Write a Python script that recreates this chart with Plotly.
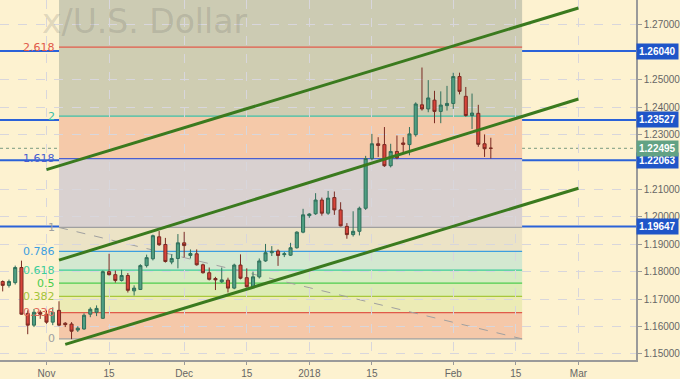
import plotly.graph_objects as go

dates = ["2017-10-23","2017-10-24","2017-10-25","2017-10-26","2017-10-27","2017-10-30","2017-10-31",
"2017-11-01","2017-11-02","2017-11-03","2017-11-06","2017-11-07","2017-11-08","2017-11-09","2017-11-10",
"2017-11-13","2017-11-14","2017-11-15","2017-11-16","2017-11-17","2017-11-20","2017-11-21","2017-11-22","2017-11-23","2017-11-24",
"2017-11-27","2017-11-28","2017-11-29","2017-11-30","2017-12-01","2017-12-04","2017-12-05","2017-12-06","2017-12-07","2017-12-08",
"2017-12-11","2017-12-12","2017-12-13","2017-12-14","2017-12-15","2017-12-18","2017-12-19","2017-12-20","2017-12-21","2017-12-22",
"2017-12-26","2017-12-27","2017-12-28","2017-12-29","2018-01-01","2018-01-02","2018-01-03","2018-01-04","2018-01-05",
"2018-01-08","2018-01-09","2018-01-10","2018-01-11","2018-01-12","2018-01-15","2018-01-16","2018-01-17","2018-01-18","2018-01-19",
"2018-01-22","2018-01-23","2018-01-24","2018-01-25","2018-01-26","2018-01-29","2018-01-30","2018-01-31","2018-02-01","2018-02-02",
"2018-02-05","2018-02-06","2018-02-07","2018-02-08","2018-02-09"]

opens = [1.1764,1.1750,1.1760,1.1815,1.1648,1.1605,1.1652,
1.1645,1.1616,1.1659,1.1612,1.1609,1.1587,1.1591,1.1645,
1.1652,1.1630,1.1800,1.1789,1.1768,1.1786,1.1730,1.1735,1.1822,1.1847,
1.1927,1.1899,1.1835,1.1848,1.1905,1.1859,1.1865,1.1825,1.1796,1.1775,
1.1763,1.1769,1.1740,1.1824,1.1778,1.1745,1.1781,1.1839,1.1869,1.1875,
1.1862,1.1860,1.1887,1.1944,1.2004,1.2011,1.2061,1.2013,1.2070,
1.2025,1.1965,1.1935,1.1947,1.2031,1.2212,1.2266,1.2263,1.2186,1.2238,
1.2269,1.2263,1.2299,1.2408,1.2393,1.2425,1.2384,1.2405,1.2413,1.2511,
1.2439,1.2369,1.2377,1.2266,1.2250]
highs = [1.1768,1.1771,1.1822,1.1840,1.1659,1.1664,1.1659,
1.1659,1.1670,1.1692,1.1616,1.1616,1.1601,1.1648,1.1670,
1.1677,1.1804,1.1865,1.1804,1.1807,1.1795,1.1750,1.1827,1.1862,1.1935,
1.1948,1.1923,1.1863,1.1937,1.1945,1.1881,1.1881,1.1829,1.1815,1.1781,
1.1815,1.1778,1.1829,1.1863,1.1812,1.1800,1.1848,1.1901,1.1893,1.1881,
1.1872,1.1905,1.1947,1.2029,1.2013,1.2086,1.2070,1.2094,1.2092,
1.2053,1.1977,1.2020,1.2037,1.2222,1.2302,1.2290,1.2327,1.2266,1.2296,
1.2290,1.2327,1.2417,1.2544,1.2498,1.2459,1.2457,1.2477,1.2525,1.2525,
1.2473,1.2449,1.2408,1.2300,1.2288]
lows = [1.1728,1.1742,1.1753,1.1643,1.1572,1.1598,1.1628,
1.1610,1.1605,1.1601,1.1598,1.1554,1.1580,1.1588,1.1634,
1.1638,1.1628,1.1786,1.1760,1.1764,1.1724,1.1713,1.1733,1.1815,1.1841,
1.1894,1.1833,1.1827,1.1812,1.1851,1.1848,1.1822,1.1793,1.1768,1.1733,
1.1759,1.1724,1.1736,1.1772,1.1742,1.1740,1.1775,1.1836,1.1857,1.1821,
1.1853,1.1857,1.1884,1.1940,1.1996,1.2007,1.2004,1.2007,1.2007,
1.1965,1.1920,1.1928,1.1932,1.2025,1.2206,1.2218,1.2182,1.2180,1.2210,
1.2230,1.2224,1.2292,1.2387,1.2381,1.2341,1.2341,1.2387,1.2393,1.2446,
1.2365,1.2320,1.2255,1.2218,1.2212]
closes = [1.1750,1.1764,1.1815,1.1645,1.1605,1.1652,1.1645,
1.1616,1.1652,1.1605,1.1607,1.1583,1.1594,1.1641,1.1663,
1.1666,1.1800,1.1789,1.1768,1.1786,1.1732,1.1740,1.1822,1.1851,1.1931,
1.1898,1.1837,1.1848,1.1905,1.1895,1.1866,1.1825,1.1796,1.1772,1.1770,
1.1770,1.1740,1.1824,1.1776,1.1745,1.1781,1.1839,1.1869,1.1874,1.1859,
1.1865,1.1887,1.1944,1.2007,1.2010,1.2061,1.2013,1.2068,1.2025,
1.1967,1.1935,1.1947,1.2031,1.2212,1.2266,1.2260,1.2186,1.2238,1.2215,
1.2264,1.2302,1.2411,1.2393,1.2433,1.2384,1.2407,1.2413,1.2511,1.2457,
1.2369,1.2378,1.2264,1.2248,1.22495]

# Fibonacci extension anchors
fib_dates = ["2017-11-03", "2018-02-16"]
fib_one = 1.1961
fib_zero = 1.1555
fib_ratios = [0, 0.236, 0.382, 0.5, 0.618, 0.786, 1, 1.618, 2, 2.618]
fib_labels = ["0", "0.236", "0.382", "0.5", "0.618", "0.786", "1", "1.618", "2", "2.618"]
fib_line_colors = ["#a0a0a0", "#e05a4a", "#a8c83c", "#4ccc4c", "#3ccc9a", "#3c9ee0", "#a0a0a0", "#4a5fd0", "#3cc0a8", "#e05a4a"]
fib_label_colors = ["#a0a0a0", "#e26a5a", "#a4c43a", "#4ccc4c", "#3ccc9a", "#3c9ee0", "#a0a0a0", "#4a5fd0", "#3cc0a8", "#e05a4a"]
fib_zone_colors = ["#f5c8a9", "#ecebb5", "#ddecb5", "#d7ecc2", "#d3e8d0", "#ece3c6", "#d9d1d0", "#f5c9a9", "#cfcdb2"]
fib_top_zone_color = "#cccbb3"

# Channel lines (start date, start price, end date, end price)
channel_x = [["2017-11-01", "2018-03-01"], ["2017-11-03", "2018-03-01"], ["2017-11-06", "2018-03-01"]]
channel_y = [[1.2172, 1.2761], [1.1842, 1.2429], [1.1535, 1.2104]]

# Horizontal levels
h_levels = [1.26040, 1.23527, 1.22063, 1.19647]
last_price = 1.22495

tick_dates = ["2017-11-01", "2017-11-15", "2017-12-01", "2017-12-15", "2018-01-01",
              "2018-01-15", "2018-02-01", "2018-02-15", "2018-03-01"]
tick_text = ["Nov", "15", "Dec", "15", "2018", "15", "Feb", "15", "Mar"]
price_ticks = [1.15, 1.16, 1.17, 1.18, 1.19, 1.20, 1.21, 1.23, 1.24, 1.25, 1.27]

y_range = [1.1478, 1.2790]
x_range = ["2017-10-20 13:40", "2018-03-14 04:48"]

fig = go.Figure()
shapes = []
annotations = []

fib_prices = [fib_zero + r * (fib_one - fib_zero) for r in fib_ratios]

# zones
for i in range(len(fib_prices) - 1):
    shapes.append(dict(type="rect", xref="x", yref="y", x0=fib_dates[0], x1=fib_dates[1],
                       y0=fib_prices[i], y1=fib_prices[i + 1], fillcolor=fib_zone_colors[i],
                       line=dict(width=0), layer="below"))
shapes.append(dict(type="rect", xref="x", yref="y", x0=fib_dates[0], x1=fib_dates[1],
                   y0=fib_prices[-1], y1=y_range[1], fillcolor=fib_top_zone_color,
                   line=dict(width=0), layer="below"))
# fib lines
for p, c in zip(fib_prices, fib_line_colors):
    shapes.append(dict(type="line", xref="x", yref="y", x0=fib_dates[0], x1=fib_dates[1],
                       y0=p, y1=p, line=dict(color=c, width=1.2), layer="below"))
# diagonal trend line of fib tool
shapes.append(dict(type="line", xref="x", yref="y", x0=fib_dates[0], x1=fib_dates[1],
                   y0=fib_one, y1=fib_zero, line=dict(color="#a0a0a0", width=1, dash="dash"), layer="below"))
# last price dotted line
shapes.append(dict(type="line", xref="paper", yref="y", x0=0, x1=1, y0=last_price, y1=last_price,
                   line=dict(color="#7a9a80", width=1, dash="dot"), layer="below"))
# blue horizontal levels
for h in h_levels:
    shapes.append(dict(type="line", xref="paper", yref="y", x0=0, x1=1, y0=h, y1=h,
                       line=dict(color="#2a62d8", width=2), layer="below"))

for lbl, p, c in zip(fib_labels, fib_prices, fib_label_colors):
    annotations.append(dict(x=fib_dates[0], y=p, xref="x", yref="y", text=lbl, showarrow=False,
                            xanchor="right", yanchor="middle", xshift=-2,
                            font=dict(size=11, color=c, family="DejaVu Sans")))

fig.add_trace(go.Candlestick(
    x=dates, open=opens, high=highs, low=lows, close=closes,
    increasing=dict(line=dict(color="#2f6f5a", width=1), fillcolor="#4f9f82"),
    decreasing=dict(line=dict(color="#7a2a22", width=1), fillcolor="#d8443a"),
    whiskerwidth=0, showlegend=False, hoverinfo="skip"))

for cx, cy in zip(channel_x, channel_y):
    fig.add_trace(go.Scatter(x=cx, y=cy, mode="lines", line=dict(color="#3a7a1e", width=3),
                             showlegend=False, hoverinfo="skip"))

for h in h_levels:
    annotations.append(dict(x=1, y=h, xref="paper", yref="y", text="<b>%.5f</b>" % h, showarrow=False,
                            xanchor="left", yanchor="middle", bgcolor="#1f55c8", borderpad=2,
                            font=dict(size=10, color="white", family="Liberation Sans")))
annotations.append(dict(x=1, y=last_price, xref="paper", yref="y", text="<b>%.5f</b>" % last_price,
                        showarrow=False, xanchor="left", yanchor="middle", bgcolor="#62a284", borderpad=2,
                        font=dict(size=10, color="white", family="Liberation Sans")))

annotations.append(dict(x=250 / 639, y=1, xref="paper", yref="paper", text="x/U.S. Dollar", showarrow=False,
                        xanchor="right", yanchor="top", yshift=0,
                        font=dict(size=33, color="rgba(80,80,80,0.18)", family="DejaVu Sans")))

fig.update_layout(
    width=680, height=379,
    margin=dict(l=0, r=41, t=0, b=16),
    paper_bgcolor="#fdf2d0", plot_bgcolor="#fdf2d0",
    shapes=shapes, annotations=annotations,
    showlegend=False,
    xaxis=dict(type="date", range=x_range, rangeslider=dict(visible=False),
               rangebreaks=[dict(bounds=["sat", "mon"]), dict(values=["2017-12-25"])],
               tickmode="array", tickvals=tick_dates, ticktext=tick_text,
               showgrid=True, gridcolor="#d8d6dc", griddash="dash", gridwidth=1,
               showline=True, linecolor="#9a9a9a", linewidth=1.5,
               ticks="outside", ticklen=3, tickcolor="#9a9a9a",
               tickfont=dict(size=10, color="#666666", family="Liberation Sans")),
    yaxis=dict(side="right", range=y_range, tickmode="array", tickvals=price_ticks,
               tickformat=".5f",
               showgrid=True, gridcolor="#d8d6dc", griddash="dash", gridwidth=1,
               showline=True, linecolor="#9a9a9a", linewidth=1.5,
               ticks="outside", ticklen=4, tickcolor="#9a9a9a",
               tickfont=dict(size=10, color="#666666", family="Liberation Sans"),
               zeroline=False),
)

fig.write_html("out.html")
